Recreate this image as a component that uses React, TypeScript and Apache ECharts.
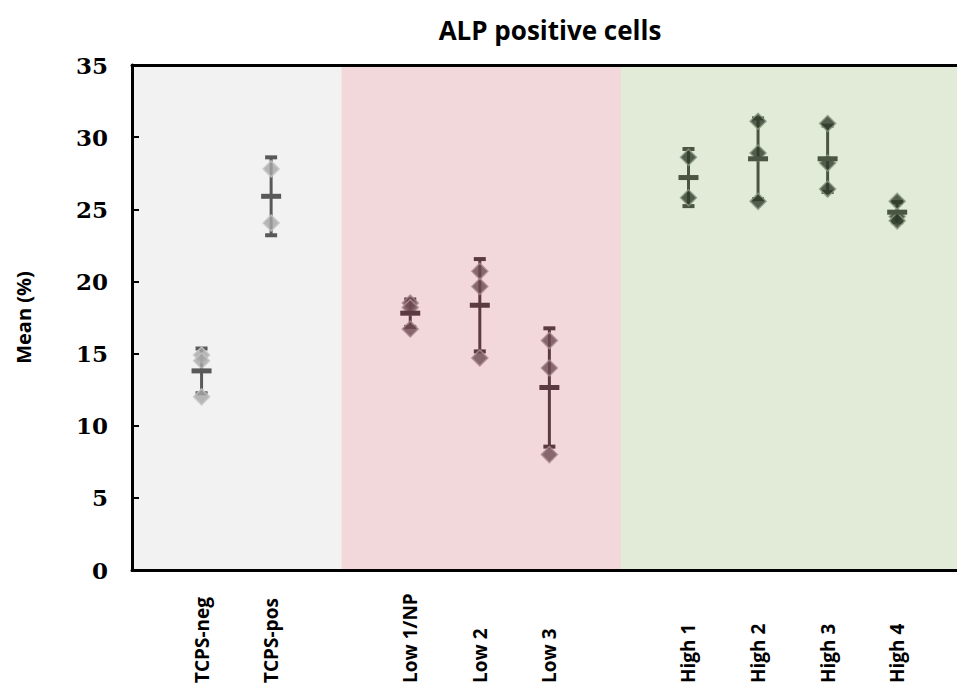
import React, { useEffect, useRef } from "react";
import * as echarts from "echarts";

// ---- data ----
const title = "ALP positive cells";
const yAxisName = "Mean (%)";
const categories = ["TCPS-neg", "TCPS-pos", "Low 1/NP", "Low 2", "Low 3", "High 1", "High 2", "High 3", "High 4"];
const xPositions = [1, 2, 4, 5, 6, 8, 9, 10, 11];
const groupOf = [0, 0, 1, 1, 1, 2, 2, 2, 2];
const means = [13.8, 25.9, 17.8, 18.35, 12.65, 27.2, 28.5, 28.5, 24.8];
const sds = [1.55, 2.7, 0.95, 3.2, 4.1, 1.98, 2.8, 2.3, 0.7];
const replicates = [
  [14.9, 14.5, 12.0],
  [27.8, 24.05],
  [18.5, 18.2, 16.7],
  [20.7, 19.65, 14.7],
  [15.9, 14.0, 8.0],
  [28.6, 25.8],
  [31.1, 28.9, 25.55],
  [30.95, 28.2, 26.4],
  [25.55, 24.5, 24.2],
];
const bandRanges = [
  [0, 3.01],
  [3.01, 7.03],
  [7.03, 11.86],
];
const yMin = 0;
const yMax = 35;
const yStep = 5;
const xMin = 0;
const xMax = 11.86;

// ---- styles ----
const groupStyles = [
  { band: "#f2f2f2", bar: "#595959", fill: "#a6a6a6", border: "#c6c6c6" },
  { band: "#f2d8da", bar: "#5b3a41", fill: "#6d4a51", border: "#a98c91" },
  { band: "#e2ebd8", bar: "#4a5542", fill: "#2e3a29", border: "#8c9b82" },
];
const sansFont = "'Open Sans', 'Noto Sans', sans-serif";
const serifFont = "'DejaVu Serif', serif";

export default function App() {
  const ref = useRef<HTMLDivElement>(null);

  useEffect(() => {
    if (!ref.current) return;
    const chart = echarts.init(ref.current, undefined, { renderer: "svg" });

    const summaryData = categories.map((_, i) => [xPositions[i], means[i], sds[i], groupOf[i]]);
    const pointData: any[] = [];
    replicates.forEach((vals, i) => {
      const st = groupStyles[groupOf[i]];
      vals.forEach((v) => {
        pointData.push({
          value: [xPositions[i], v],
          itemStyle: { color: st.fill, borderColor: st.border, borderWidth: 1.5 },
        });
      });
    });

    const option: any = {
      animation: false,
      backgroundColor: "#ffffff",
      title: {
        text: title,
        left: 545,
        top: 12,
        textAlign: "center",
        textStyle: { fontFamily: sansFont, fontWeight: "bold", fontSize: 26, color: "#000" },
      },
      grid: { left: 132, right: -3, top: 65, bottom: 120, containLabel: false },
      xAxis: [
        {
          type: "value",
          min: xMin,
          max: xMax,
          position: "bottom",
          z: 10,
          splitLine: { show: false },
          axisTick: { show: false },
          axisLine: { show: true, onZero: false, lineStyle: { color: "#000", width: 3 } },
          axisLabel: {
            customValues: xPositions,
            rotate: 90,
            align: "left",
            margin: 113,
            color: "#000",
            fontFamily: sansFont,
            fontWeight: "bold",
            fontSize: 19,
            formatter: (v: number) => {
              const i = xPositions.indexOf(v);
              return i >= 0 ? categories[i] : "";
            },
          },
        },
        {
          type: "value",
          min: xMin,
          max: xMax,
          position: "top",
          z: 10,
          splitLine: { show: false },
          axisTick: { show: false },
          axisLabel: { show: false },
          axisLine: { show: true, onZero: false, lineStyle: { color: "#000", width: 3 } },
        },
      ],
      yAxis: {
        type: "value",
        min: yMin,
        max: yMax,
        interval: yStep,
        z: 10,
        name: yAxisName,
        nameLocation: "middle",
        nameGap: 99,
        nameTextStyle: { fontFamily: sansFont, fontWeight: "bold", fontSize: 20, color: "#000" },
        splitLine: { show: false },
        axisLine: { show: true, lineStyle: { color: "#000", width: 3 } },
        axisTick: { show: true, inside: true, length: 7, lineStyle: { color: "#000", width: 2 } },
        axisLabel: {
          margin: 24,
          color: "#000",
          fontFamily: serifFont,
          fontWeight: "bold",
          fontSize: 23,
        },
      },
      series: [
        {
          type: "custom",
          name: "errorbars",
          z: 2,
          data: summaryData,
          renderItem: (params: any, api: any) => {
            const x = api.value(0);
            const m = api.value(1);
            const s = api.value(2);
            const col = groupStyles[api.value(3)].bar;
            const top = api.coord([x, m + s]);
            const bot = api.coord([x, m - s]);
            return {
              type: "group",
              children: [
                { type: "line", shape: { x1: top[0], y1: top[1], x2: bot[0], y2: bot[1] }, style: { stroke: col, lineWidth: 3 } },
                { type: "line", shape: { x1: top[0] - 6, y1: top[1], x2: top[0] + 6, y2: top[1] }, style: { stroke: col, lineWidth: 4 } },
                { type: "line", shape: { x1: bot[0] - 6, y1: bot[1], x2: bot[0] + 6, y2: bot[1] }, style: { stroke: col, lineWidth: 4 } },
              ],
            };
          },
        },
        {
          type: "scatter",
          name: "replicates",
          z: 3,
          symbol: "diamond",
          symbolSize: 16,
          data: pointData,
          markArea: {
            silent: true,
            z: 1,
            data: bandRanges.map((r, i) => [
              { xAxis: r[0], itemStyle: { color: groupStyles[i].band } },
              { xAxis: r[1] },
            ]),
          },
        },
        {
          type: "custom",
          name: "means",
          z: 4,
          data: summaryData,
          renderItem: (params: any, api: any) => {
            const x = api.value(0);
            const m = api.value(1);
            const col = groupStyles[api.value(3)].bar;
            const c = api.coord([x, m]);
            return {
              type: "line",
              shape: { x1: c[0] - 10, y1: c[1], x2: c[0] + 10, y2: c[1] },
              style: { stroke: col, lineWidth: 5 },
            };
          },
        },
      ],
    };

    chart.setOption(option);
    return () => chart.dispose();
  }, []);

  return (
    <div
      ref={ref}
      style={{ position: "absolute", left: 0, top: 0, width: 957, height: 690, background: "#fff" }}
    />
  );
}
